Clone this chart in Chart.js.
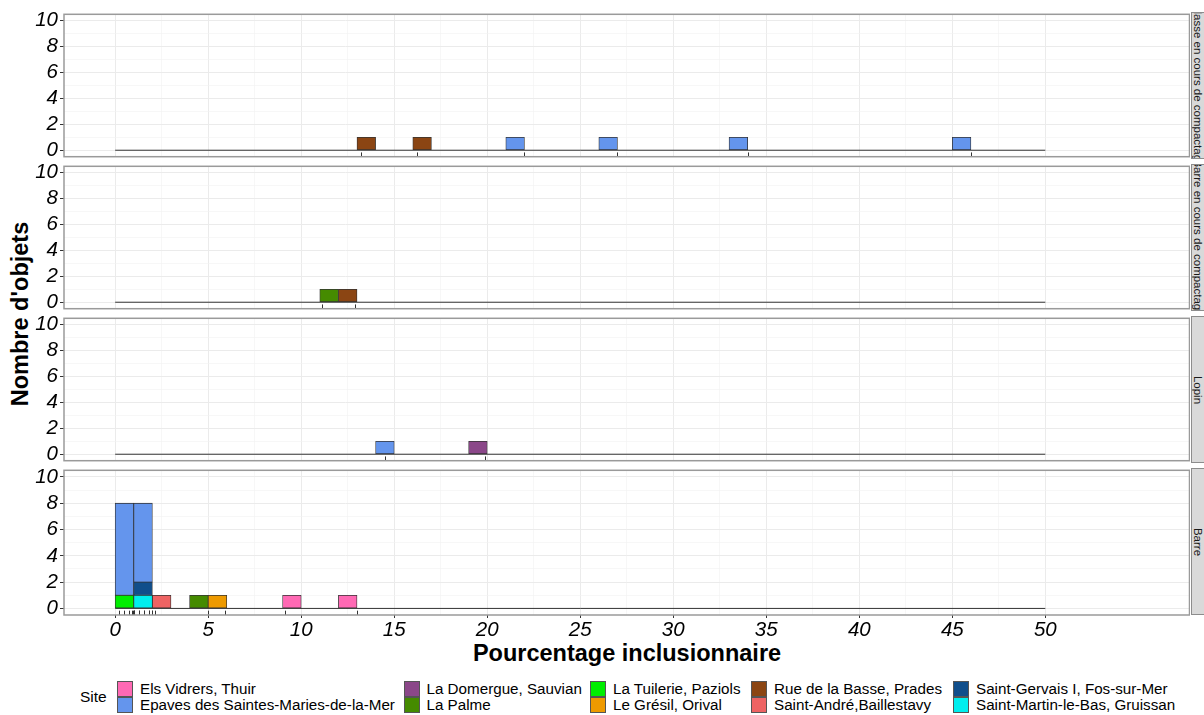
<!DOCTYPE html>
<html lang="fr">
<head>
    <meta charset="UTF-8">
    <title>Pourcentage inclusionnaire par type d'objet</title>
    <script src="https://cdn.jsdelivr.net/npm/chart.js"></script>
    <style>
        body { margin: 0; background: #fff; font-family: "Liberation Sans", Arial, sans-serif; }
        #figure { position: relative; width: 1204px; height: 715px; overflow: hidden; background: #fff; }
        .panel { position: absolute; left: 0; }
        .panel canvas { display: block; }
        .strip { position: absolute; left: 1191px; width: 14px; overflow: hidden; background: #d9d9d9;
                 border: 1px solid #8c8c8c; box-sizing: border-box; }
        .strip-text { position: absolute; left: 50%; top: 50%; height: 14px; display: flex;
                      justify-content: center; align-items: center; white-space: nowrap;
                      font-size: 11.5px; color: #1a1a1a; transform: translate(-50%, -50%) rotate(90deg); }
        .title { position: absolute; font-weight: bold; font-size: 23.5px; line-height: 24px;
                 color: #000; text-align: center; white-space: nowrap; }
        #ytitle { left: -129.6px; top: 301.5px; width: 300px; transform: rotate(-90deg); }
        #xtitle { left: 327px; top: 641px; width: 600px; }
        .legend-title { position: absolute; left: 80px; top: 689px; line-height: 16px; font-size: 15.5px; }
        .key { position: absolute; width: 16px; height: 16px; box-sizing: border-box; border: 1px solid #555; }
        .key-label { position: absolute; line-height: 16px; font-size: 15.2px; white-space: nowrap; color: #000; }
    </style>
</head>
<body>
<div id="figure">
    <div class="title" id="ytitle">Nombre d'objets</div>
    <div class="title" id="xtitle">Pourcentage inclusionnaire</div>
    <div class="legend-title">Site</div>
</div>

<script>
    const siteNames = [
        'Els Vidrers, Thuir',
        'Epaves des Saintes-Maries-de-la-Mer',
        'La Domergue, Sauvian',
        'La Palme',
        'La Tuilerie, Paziols',
        'Le Grésil, Orival',
        'Rue de la Basse, Prades',
        'Saint-André,Baillestavy',
        'Saint-Gervais I, Fos-sur-Mer',
        'Saint-Martin-le-Bas, Gruissan'
    ];
    const siteColors = ['#FF69B4', '#6495ED', '#8B4789', '#458B00', '#00EE00',
                        '#EE9A00', '#8B4513', '#EE6363', '#104E8B', '#00EEEE'];

    const facetNames = ['Masse en cours de compactage', 'Barre en cours de compactage', 'Lopin', 'Barre'];

    // histogram bins of 1 %, closed on the right: bin start, site, count
    const masseBinStart = [13, 16, 21, 26, 33, 45];
    const masseSite = ['Rue de la Basse, Prades', 'Rue de la Basse, Prades',
                       'Epaves des Saintes-Maries-de-la-Mer', 'Epaves des Saintes-Maries-de-la-Mer',
                       'Epaves des Saintes-Maries-de-la-Mer', 'Epaves des Saintes-Maries-de-la-Mer'];
    const masseCount = [1, 1, 1, 1, 1, 1];
    const masseRug = [13.2, 16.2, 22.0, 27.0, 34.0, 46.0];

    const barreCompBinStart = [11, 12];
    const barreCompSite = ['La Palme', 'Rue de la Basse, Prades'];
    const barreCompCount = [1, 1];
    const barreCompRug = [11.1, 12.9];

    const lopinBinStart = [14, 19];
    const lopinSite = ['Epaves des Saintes-Maries-de-la-Mer', 'La Domergue, Sauvian'];
    const lopinCount = [1, 1];
    const lopinRug = [14.5, 19.9];

    const barreBinStart = [0, 0, 1, 1, 1, 2, 4, 5, 9, 12];
    const barreSite = ['La Tuilerie, Paziols', 'Epaves des Saintes-Maries-de-la-Mer',
                       'Saint-Martin-le-Bas, Gruissan', 'Saint-Gervais I, Fos-sur-Mer',
                       'Epaves des Saintes-Maries-de-la-Mer', 'Saint-André,Baillestavy',
                       'La Palme', 'Le Grésil, Orival', 'Els Vidrers, Thuir', 'Els Vidrers, Thuir'];
    const barreCount = [1, 7, 1, 1, 6, 1, 1, 1, 1, 1];
    const barreRug = [0.2, 0.47, 0.74, 0.9, 0.97, 1.0, 1.0, 1.0, 1.29, 1.29, 1.56, 1.56,
                      1.8, 1.8, 1.96, 2.0, 2.14, 4.98, 5.93, 9.14, 13.0];

    const binWidth = 1;
    const binRange = [0, 50];
    const xLimits = [-2.75, 57.75];
    const yLimits = [-0.5, 10.5];
    const xTicks = [0, 5, 10, 15, 20, 25, 30, 35, 40, 45, 50];
    const yTicks = [0, 2, 4, 6, 8, 10];

    // page layout (pixels)
    const layout = { plotLeft: 64, plotRight: 1190, panelTop: [12, 164, 316, 468], panelHeight: 147,
                     pad: 12, xAxisHeight: 45 };
    const legendCols = [117, 403.5, 590, 751, 953];
    const legendRows = [681, 697];

    const fontFamily = "'Liberation Sans', Arial, sans-serif";
    const figure = document.getElementById('figure');

    function withMinor(major) {
        const out = [];
        major.forEach((v, i) => {
            out.push({ value: v, minor: false });
            if (i < major.length - 1) out.push({ value: (v + major[i + 1]) / 2, minor: true });
        });
        return out;
    }

    const gridColor = ctx => (ctx.tick && ctx.tick.minor) ? '#f2f2f2' : '#ebebeb';
    const tickColor = ctx => (ctx.tick && ctx.tick.minor) ? 'rgba(0,0,0,0)' : '#333333';

    const panelFrame = {
        id: 'panelFrame',
        afterDatasetsDraw(chart, args, opts) {
            const { ctx, chartArea: a, scales: { x } } = chart;
            ctx.save();
            ctx.strokeStyle = '#333333';
            ctx.lineWidth = 1;
            const len = (a.bottom - a.top) * 0.03;
            opts.rug.forEach(v => {
                const px = Math.round(x.getPixelForValue(v)) + 0.5;
                ctx.beginPath();
                ctx.moveTo(px, a.bottom);
                ctx.lineTo(px, a.bottom - len);
                ctx.stroke();
            });
            ctx.strokeStyle = '#9a9a9a';
            ctx.lineWidth = 1.5;
            ctx.strokeRect(a.left, a.top, a.right - a.left, a.bottom - a.top);
            ctx.restore();
        }
    };

    function siteDatasets(binStart, site, count) {
        // ggplot stacks the first factor level on top, so push later levels first
        const used = siteNames.filter(s => site.includes(s)).reverse();
        return used.map(name => ({
            type: 'bar',
            label: name,
            data: binStart.map((b, i) => site[i] === name ? { x: b + binWidth / 2, y: count[i] } : null)
                          .filter(Boolean),
            backgroundColor: siteColors[siteNames.indexOf(name)],
            borderColor: '#333333',
            borderWidth: 0.8,
            borderSkipped: false,
            order: 0
        }));
    }

    function buildPanel(k, binStart, site, count, rug) {
        const isBottom = k === facetNames.length - 1;
        const box = document.createElement('div');
        box.className = 'panel';
        box.style.top = (layout.panelTop[k] - layout.pad) + 'px';
        const canvas = document.createElement('canvas');
        canvas.width = layout.plotRight;
        canvas.height = layout.pad + layout.panelHeight + (isBottom ? layout.xAxisHeight : layout.pad);
        box.appendChild(canvas);
        figure.appendChild(box);

        const datasets = siteDatasets(binStart, site, count);
        datasets.push({
            type: 'line',
            label: 'base',
            data: [{ x: binRange[0], y: 0 }, { x: binRange[1], y: 0 }],
            borderColor: '#333333',
            borderWidth: 1,
            pointRadius: 0,
            order: 1
        });

        const chart = new Chart(canvas.getContext('2d'), {
            type: 'bar',
            data: { datasets },
            options: {
                responsive: false,
                animation: false,
                events: [],
                layout: { padding: { top: layout.pad, bottom: isBottom ? 0 : layout.pad, left: 0, right: 0 } },
                plugins: {
                    legend: { display: false },
                    tooltip: { enabled: false },
                    panelFrame: { rug }
                },
                scales: {
                    x: {
                        type: 'linear',
                        stacked: true,
                        offset: false,
                        min: xLimits[0],
                        max: xLimits[1],
                        afterBuildTicks: s => { s.ticks = withMinor(xTicks); },
                        afterFit: s => { s.height = isBottom ? layout.xAxisHeight : 0; },
                        border: { display: false },
                        grid: { offset: false, color: gridColor, lineWidth: c => (c.tick && c.tick.minor) ? 0.6 : 1,
                                drawTicks: isBottom, tickLength: 3, tickColor },
                        ticks: {
                            display: isBottom,
                            autoSkip: false,
                            maxRotation: 0,
                            padding: 0,
                            color: '#000',
                            font: { family: fontFamily, size: 20.5, style: 'italic' },
                            callback: (v, i, ticks) => ticks[i].minor ? '' : v
                        }
                    },
                    y: {
                        type: 'linear',
                        stacked: true,
                        min: yLimits[0],
                        max: yLimits[1],
                        afterBuildTicks: s => { s.ticks = withMinor(yTicks); },
                        afterFit: s => { s.width = layout.plotLeft; },
                        border: { display: false },
                        grid: { color: gridColor, lineWidth: c => (c.tick && c.tick.minor) ? 0.6 : 1,
                                tickLength: 4, tickColor },
                        ticks: {
                            autoSkip: false,
                            padding: 2,
                            color: '#000',
                            font: { family: fontFamily, size: 20.5, style: 'italic' },
                            callback: (v, i, ticks) => ticks[i].minor ? '' : v
                        }
                    }
                }
            },
            plugins: [panelFrame]
        });

        // one bin wide bars, measured on the x scale
        const w = chart.scales.x.getPixelForValue(binWidth) - chart.scales.x.getPixelForValue(0);
        chart.data.datasets.forEach(d => { if (d.type === 'bar') d.barThickness = w; });
        chart.update('none');

        const strip = document.createElement('div');
        strip.className = 'strip';
        strip.style.top = layout.panelTop[k] + 'px';
        strip.style.height = layout.panelHeight + 'px';
        const label = document.createElement('div');
        label.className = 'strip-text';
        label.style.width = layout.panelHeight + 'px';
        label.textContent = facetNames[k];
        strip.appendChild(label);
        figure.appendChild(strip);
    }

    buildPanel(0, masseBinStart, masseSite, masseCount, masseRug);
    buildPanel(1, barreCompBinStart, barreCompSite, barreCompCount, barreCompRug);
    buildPanel(2, lopinBinStart, lopinSite, lopinCount, lopinRug);
    buildPanel(3, barreBinStart, barreSite, barreCount, barreRug);

    // legend: two rows, filled column by column
    siteNames.forEach((name, i) => {
        const col = Math.floor(i / 2), row = i % 2;
        const key = document.createElement('div');
        key.className = 'key';
        key.style.left = legendCols[col] + 'px';
        key.style.top = legendRows[row] + 'px';
        key.style.background = siteColors[i];
        figure.appendChild(key);
        const text = document.createElement('div');
        text.className = 'key-label';
        text.style.left = (legendCols[col] + 23) + 'px';
        text.style.top = legendRows[row] + 'px';
        text.textContent = name;
        figure.appendChild(text);
    });
</script>
</body>
</html>
